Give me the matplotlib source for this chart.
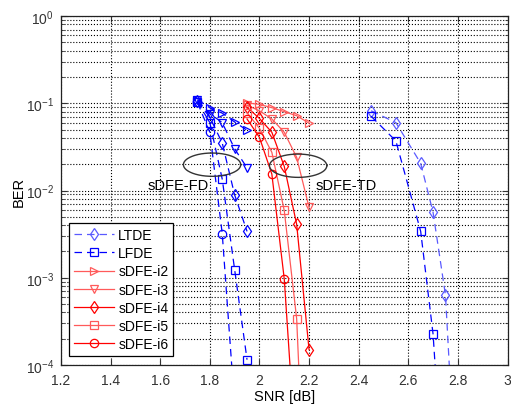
import numpy as np
import matplotlib
matplotlib.use("Agg")
import matplotlib.pyplot as plt
from matplotlib.ticker import LogLocator, FixedLocator, NullFormatter

plt.rcParams['font.family'] = ['Liberation Sans', 'DejaVu Sans']

# ---- data ----
snr_lin = [2.45, 2.55, 2.65, 2.70, 2.75, 2.80]
ltde = [0.082, 0.060, 0.0205, 0.0056, 6.3e-4, 1.5e-6]
snr_lfde = [2.45, 2.55, 2.65, 2.70, 2.75]
lfde = [0.071, 0.037, 0.0034, 2.25e-4, 1.5e-6]

snr_fd = [1.75, 1.80, 1.85, 1.90, 1.95]
fd_i2 = [0.110, 0.089, 0.077, 0.061, 0.049]
fd_i3 = [0.108, 0.076, 0.060, 0.030, 0.0182]
fd_i4 = [0.106, 0.069, 0.035, 0.0089, 0.0034]
fd_i5 = [0.104, 0.060, 0.0135, 0.00124, 1.15e-4]
snr_fd6 = [1.75, 1.80, 1.85, 1.90]
fd_i6 = [0.102, 0.0465, 0.0032, 3.4e-5]

snr_td = [1.95, 2.00, 2.05, 2.10, 2.15, 2.20]
td_i2 = [0.101, 0.097, 0.089, 0.080, 0.072, 0.059]
td_i3 = [0.095, 0.082, 0.066, 0.0465, 0.024, 0.0064]
td_i4 = [0.090, 0.067, 0.0465, 0.0189, 0.0041, 1.5e-4]
td_i5 = [0.078, 0.0516, 0.0274, 0.0059, 3.4e-4, 2e-7]
snr_td6 = [1.95, 2.00, 2.05, 2.10, 2.15]
td_i6 = [0.066, 0.0407, 0.0154, 9.7e-4, 7e-6]

labels = ['LTDE', 'LFDE', 'sDFE-i2', 'sDFE-i3', 'sDFE-i4', 'sDFE-i5', 'sDFE-i6']
xticks = [1.2, 1.4, 1.6, 1.8, 2.0, 2.2, 2.4, 2.6, 2.8, 3.0]
xtick_labels = ['1.2', '1.4', '1.6', '1.8', '2', '2.2', '2.4', '2.6', '2.8', '3']

# ---- figure ----
fig = plt.figure(figsize=(5.11, 4.10), dpi=100)
ax = fig.add_axes([61/511, 44/410, 446.5/511, 349/410])
ax.set_yscale('log')

dash = (0, (6, 4))
lblue = '#5a5aff'
lred = '#ff5a5a'
ms = 6
lw = 0.9
kw = dict(mfc='none', ms=ms, lw=lw, mew=0.9)

l1, = ax.plot(snr_lin, ltde, ls=dash, color=lblue, marker='d', **kw)
l2, = ax.plot(snr_lfde, lfde, ls=dash, color='blue', marker='s', **kw)

ax.plot(snr_fd, fd_i2, ls=dash, color='blue', marker='>', **kw)
ax.plot(snr_fd, fd_i3, ls=dash, color='blue', marker='v', **kw)
ax.plot(snr_fd, fd_i4, ls=dash, color='blue', marker='d', **kw)
ax.plot(snr_fd, fd_i5, ls=dash, color='blue', marker='s', **kw)
ax.plot(snr_fd6, fd_i6, ls=dash, color='blue', marker='o', **kw)

l3, = ax.plot(snr_td, td_i2, '-', color=lred, marker='>', **kw)
l4, = ax.plot(snr_td, td_i3, '-', color=lred, marker='v', **kw)
l5, = ax.plot(snr_td, td_i4, '-', color='red', marker='d', **kw)
l6, = ax.plot(snr_td, td_i5, '-', color=lred, marker='s', **kw)
l7, = ax.plot(snr_td6, td_i6, '-', color='red', marker='o', **kw)

# ellipses (annotation shapes)
t = np.linspace(0, 2*np.pi, 200)
for cx, cy in [(1.809, -1.704), (2.156, -1.716)]:
    ax.plot(cx + 0.1155*np.cos(t), 10**(cy + 0.1335*np.sin(t)), color='#333333', lw=1.0)

ax.text(1.672, 0.0116, 'sDFE-FD', fontsize=10.5, ha='center', va='center')
ax.text(2.349, 0.0116, 'sDFE-TD', fontsize=10.5, ha='center', va='center')

ax.set_xlim(1.2, 3.0)
ax.set_ylim(1e-4, 1)
ax.xaxis.set_major_locator(FixedLocator(xticks))
ax.set_xticklabels(xtick_labels)
ax.yaxis.set_major_locator(LogLocator(base=10, numticks=10))
ax.yaxis.set_minor_locator(LogLocator(base=10, subs=np.arange(2, 10), numticks=20))
ax.yaxis.set_minor_formatter(NullFormatter())

ax.grid(True, which='major', axis='x', ls=':', color='k', lw=0.8)
ax.grid(True, which='both', axis='y', ls=':', color='k', lw=0.8)
ax.set_axisbelow(True)

ax.tick_params(which='both', direction='in', top=True, right=True, labelsize=10, colors='#333333')
ax.tick_params(which='major', length=4)
ax.tick_params(which='minor', length=2)
ax.tick_params(axis='x', pad=6)
ax.tick_params(axis='y', pad=5)
for s in ax.spines.values():
    s.set_color('#222222')
    s.set_linewidth(0.9)

ax.set_xlabel('SNR [dB]', fontsize=10.5, labelpad=1)
ax.set_ylabel('BER', fontsize=10.5, labelpad=0)

leg = ax.legend([l1, l2, l3, l4, l5, l6, l7], labels, loc='lower left',
                bbox_to_anchor=(8/446.5, 9/349), borderaxespad=0,
                fontsize=10, handlelength=2.9, labelspacing=0.3, handletextpad=0.3,
                fancybox=False, framealpha=1, edgecolor='k', borderpad=0.35)
leg.get_frame().set_linewidth(0.9)

fig.savefig('out.png', dpi=100)
